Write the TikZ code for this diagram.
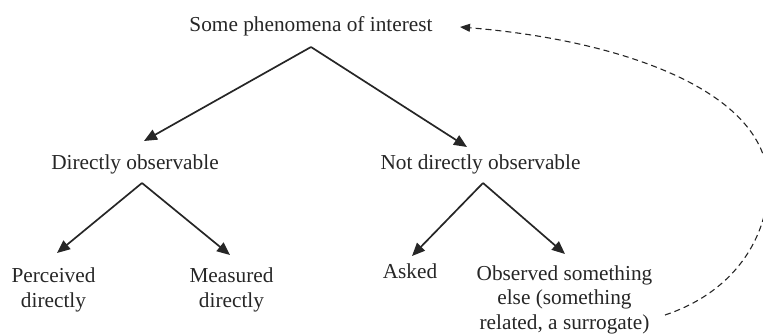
\documentclass[tikz,border=0pt]{standalone}
\usepackage{fontspec}
\setmainfont{Liberation Serif}
\usetikzlibrary{arrows.meta}
\begin{document}
\begin{tikzpicture}[x=1pt,y=-1pt,
  label/.style={inner sep=0pt, anchor=base, align=center,
    font=\fontsize{21.3}{24.5}\selectfont, text=black!85},
  branch/.style={line width=1.7pt, draw=black!85,
    -{Triangle[length=13pt,width=11pt]}},
  feedback/.style={line width=1.1pt, draw=black!85, dash pattern=on 6pt off 4pt,
    -{Triangle[length=10pt,width=8pt]}}]
  \useasboundingbox (0,0) rectangle (763,334);
  \clip (0,0) rectangle (763,334);

  % tree labels (multi-line labels are anchored at their last baseline)
  \node[label] (top)   at (311,32)  {Some phenomena of interest};
  \node[label] (dobs)  at (135,170) {Directly observable};
  \node[label] (nobs)  at (480.5,170) {Not directly observable};
  \node[label] (perc)  at (53.5,307) {Perceived\\directly};
  \node[label] (meas)  at (231.5,307) {Measured\\directly};
  \node[label] (asked) at (410,278) {Asked};
  \node[label] (obs)   at (564.5,329) {Observed something\\else (something\\related, a surrogate)};

  % branches
  \draw[branch] ([shift={(0,15)}]top.base) -- ([shift={(9,-29)}]dobs.base);
  \draw[branch] ([shift={(0,15)}]top.base) -- ([shift={(-13.5,-23)}]nobs.base);
  \draw[branch] ([shift={(7,13)}]dobs.base) -- ([shift={(3.5,-54)}]perc.base);
  \draw[branch] ([shift={(7,13)}]dobs.base) -- ([shift={(-1.5,-52)}]meas.base);
  \draw[branch] ([shift={(2.5,13)}]nobs.base) -- ([shift={(2,-22)}]asked.base);
  \draw[branch] ([shift={(2.5,13)}]nobs.base) -- ([shift={(0.5,-75)}]obs.base);

  % surrogate loops back to the phenomenon
  \draw[feedback] ([shift={(100.5,-14)}]obs.base)
     .. controls (740,290) and (770,230) .. (768,180)
     .. controls (765,90) and (620,40) .. ([shift={(149,-5)}]top.base);
\end{tikzpicture}
\end{document}
